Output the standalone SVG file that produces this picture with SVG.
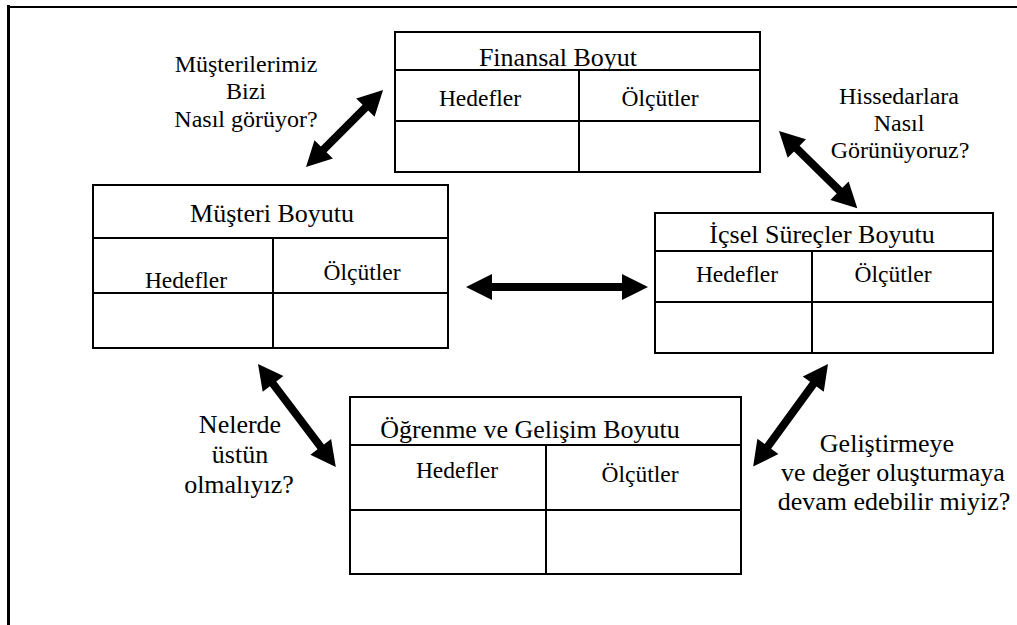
<svg xmlns="http://www.w3.org/2000/svg" width="1017" height="625" viewBox="0 0 1017 625">
  <style>
    .box { fill: #ffffff; stroke: #000000; stroke-width: 2; }
    .div { stroke: #000000; stroke-width: 2; fill: none; }
    text { font-family: 'Liberation Serif', 'DejaVu Serif', serif; fill: #000000; text-anchor: middle; }
    .title { font-size: 26px; }
    .cell { font-size: 23.5px; }
    .q { font-size: 24px; }
    .q2 { font-size: 26px; }
    .arrow { fill: #000000; }
  </style>
  <rect x="0" y="0" width="1017" height="625" fill="#ffffff"/>
  <g id="frame">
    <line x1="8.5" y1="5" x2="8.5" y2="625" stroke="#000" stroke-width="3"/>
    <line x1="7" y1="7" x2="1017" y2="7" stroke="#000" stroke-width="2"/>
  </g>

  <g id="finansal" font-family="Liberation Serif">
    <rect class="box" x="395" y="32" width="365" height="140"/>
    <line class="div" x1="395" y1="70" x2="760" y2="70"/>
    <line class="div" x1="395" y1="121" x2="760" y2="121"/>
    <line class="div" x1="579" y1="70" x2="579" y2="172"/>
    <text class="title" x="558" y="66">Finansal Boyut</text>
    <text class="cell" x="480" y="106">Hedefler</text>
    <text class="cell" x="660" y="106">Ölçütler</text>
  </g>

  <g id="musteri" font-family="Liberation Serif">
    <rect class="box" x="93" y="185" width="355" height="163"/>
    <line class="div" x1="93" y1="238" x2="448" y2="238"/>
    <line class="div" x1="93" y1="293" x2="448" y2="293"/>
    <line class="div" x1="273" y1="238" x2="273" y2="348"/>
    <text class="title" x="272" y="222">Müşteri Boyutu</text>
    <text class="cell" x="186" y="288">Hedefler</text>
    <text class="cell" x="362" y="280">Ölçütler</text>
  </g>

  <g id="icsel" font-family="Liberation Serif">
    <rect class="box" x="655" y="213" width="338" height="140"/>
    <line class="div" x1="655" y1="251" x2="993" y2="251"/>
    <line class="div" x1="655" y1="302" x2="993" y2="302"/>
    <line class="div" x1="812" y1="251" x2="812" y2="353"/>
    <text class="title" x="822" y="243">İçsel Süreçler Boyutu</text>
    <text class="cell" x="737" y="282">Hedefler</text>
    <text class="cell" x="893" y="282">Ölçütler</text>
  </g>

  <g id="ogrenme" font-family="Liberation Serif">
    <rect class="box" x="350" y="397" width="391" height="177"/>
    <line class="div" x1="350" y1="445" x2="741" y2="445"/>
    <line class="div" x1="350" y1="510" x2="741" y2="510"/>
    <line class="div" x1="546" y1="445" x2="546" y2="574"/>
    <text class="title" x="530" y="438">Öğrenme ve Gelişim Boyutu</text>
    <text class="cell" x="457" y="478">Hedefler</text>
    <text class="cell" x="640" y="482">Ölçütler</text>
  </g>

  <g id="labels" font-family="Liberation Serif">
    <text class="q" x="246" y="72">Müşterilerimiz</text>
    <text class="q" x="246" y="99">Bizi</text>
    <text class="q" x="246" y="127">Nasıl görüyor?</text>
    <text class="q" x="899" y="104">Hissedarlara</text>
    <text class="q" x="899" y="131">Nasıl</text>
    <text class="q" x="900" y="158">Görünüyoruz?</text>
    <text class="q2" x="240" y="433">Nelerde</text>
    <text class="q2" x="240" y="463">üstün</text>
    <text class="q2" x="239" y="493">olmalıyız?</text>
    <text class="q2" x="887" y="452">Geliştirmeye</text>
    <text class="q2" x="893" y="481">ve değer oluşturmaya</text>
    <text class="q2" x="894" y="510">devam edebilir miyiz?</text>
  </g>

  <g id="connectors">
    <polygon class="arrow" transform="translate(466,287)" points="0,0 26,-13 26,-4 156,-4 156,-13 182,0 156,13 156,4 26,4 26,13"/>
    <polygon class="arrow" transform="translate(306,167) rotate(-45)" points="0,0 25,-13 25,-4 84,-4 84,-13 109,0 84,13 84,4 25,4 25,13"/>
    <polygon class="arrow" transform="translate(779,131) rotate(44.6)" points="0,0 25,-13 25,-4 85,-4 85,-13 110,0 85,13 85,4 25,4 25,13"/>
    <polygon class="arrow" transform="translate(258,364) rotate(52.9)" points="0,0 25,-13 25,-4 104,-4 104,-13 129,0 104,13 104,4 25,4 25,13"/>
    <polygon class="arrow" transform="translate(828,364) rotate(126.1)" points="0,0 25,-13 25,-4 102,-4 102,-13 127,0 102,13 102,4 25,4 25,13"/>
  </g>
</svg>
